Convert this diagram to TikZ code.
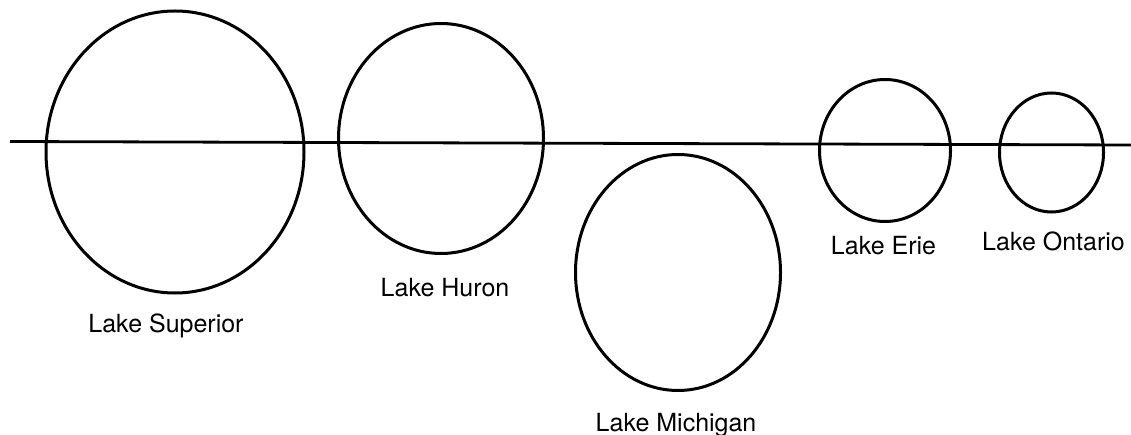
\documentclass[tikz,border=0pt]{standalone}
\usepackage{fontspec}
\setmainfont{TeX Gyre Heros}
\usetikzlibrary{shapes.geometric}
\begin{document}
\begin{tikzpicture}[x=1pt,y=-1pt,
  lake/.style={draw=black,ellipse,line width=3pt,inner sep=0pt,outer sep=0pt},
  lbl/.style={anchor=base,inner sep=0pt,font=\fontsize{25}{30}\selectfont}]
\useasboundingbox (0,0) rectangle (1131,435);
\coordinate (L) at (10,141.5);
\coordinate (R) at (1131,145);
\draw[line width=2.8pt] (L) -- (R);
\node[lake,minimum width=258pt,minimum height=282pt] (sup) at (175,152) {};
\node[lake,minimum width=205pt,minimum height=230pt] (hur) at (441,138.5) {};
\node[lake,minimum width=205pt,minimum height=236pt] (mic) at (678,272.5) {};
\node[lake,minimum width=131pt,minimum height=142pt] (eri) at (885,150.5) {};
\node[lake,minimum width=104pt,minimum height=119pt] (ont) at (1051.5,152.5) {};
\node[lbl] (tsup) at (166,332) {Lake Superior};
\node[lbl] (thur) at (445,296.5) {Lake Huron};
\node[lbl] (tmic) at (676,431) {Lake Michigan};
\node[lbl] (teri) at (883.5,255) {Lake Erie};
\node[lbl] (tont) at (1053.5,251) {Lake Ontario};
\end{tikzpicture}
\end{document}
